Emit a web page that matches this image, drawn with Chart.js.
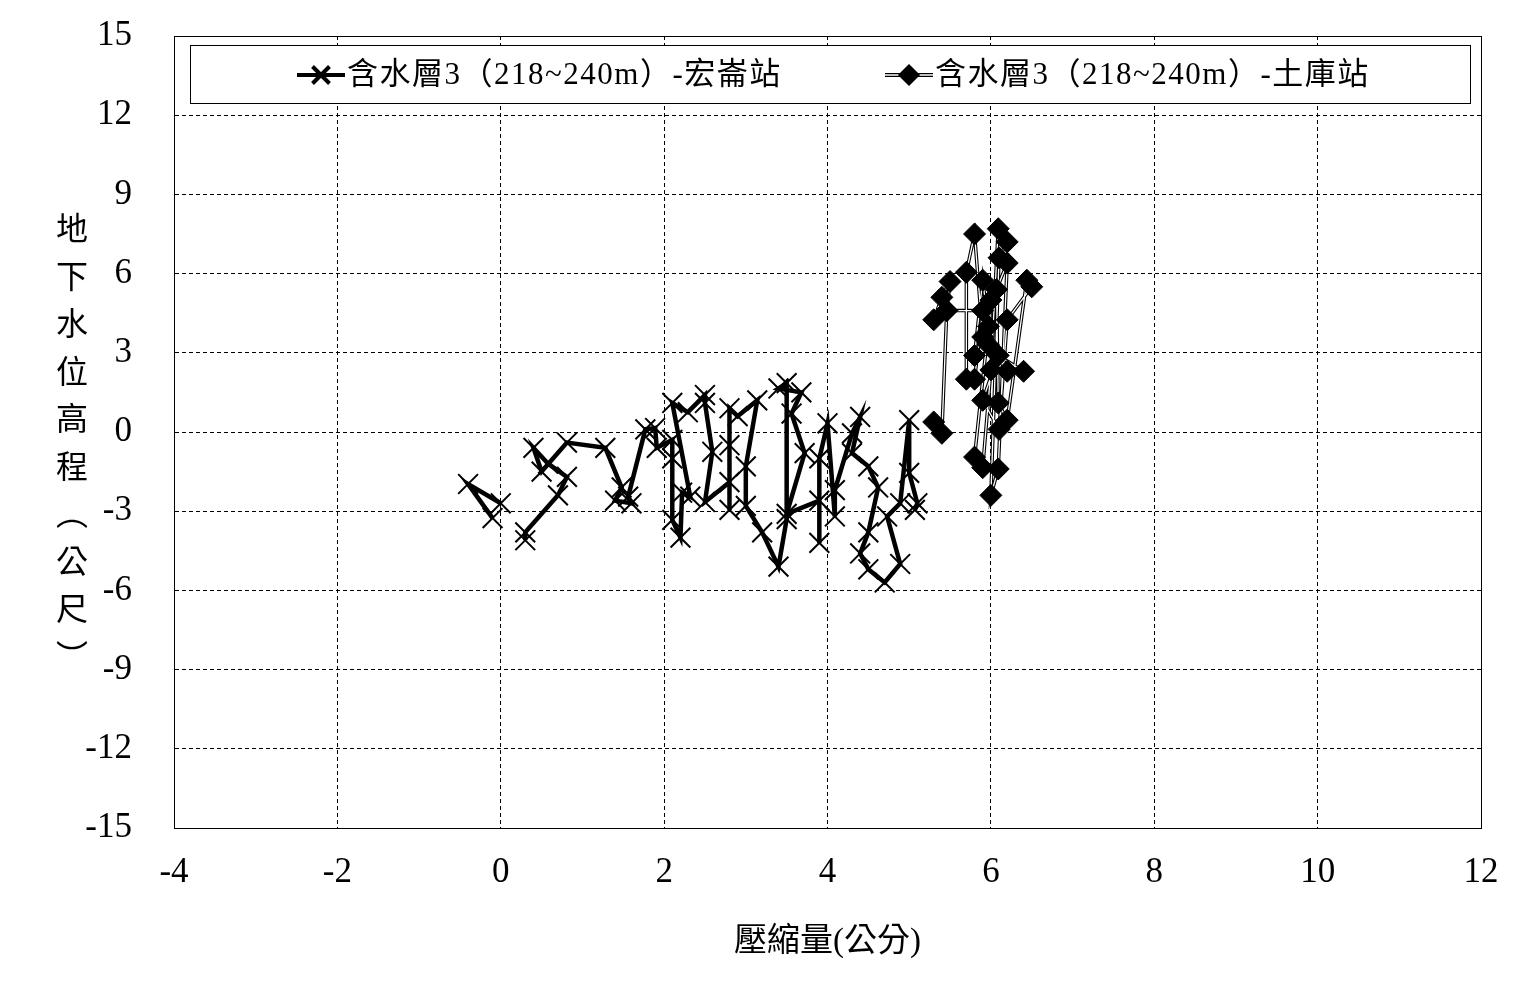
<!DOCTYPE html>
<html>
<head>
<meta charset="utf-8">
<script src="https://cdn.jsdelivr.net/npm/chart.js@4/dist/chart.umd.min.js"></script>
<style>
  html, body { margin: 0; padding: 0; background: #fff; }
  #wrap { width: 1528px; height: 998px; }
</style>
</head>
<body>
<div id="wrap"><canvas id="chart_subsidence"></canvas></div>
<script>
// 含水層3（218~240m）-宏崙站 : 壓縮量 (x) vs 地下水位 (y); null = gap in the record
const HONGLUN_X = [-0.1, -0.4, 0.0, null,
    0.3, 0.3, 0.7, 0.81, 0.58, 0.4, 0.5, 0.81, 1.28, 1.48, 1.4, 1.6, 1.56, 1.77, 1.89, 1.91,
    2.1, 2.1, 2.1, 2.2, 2.22, 2.32, 2.1, 2.29, 2.5, 2.5, 2.59, 2.5, 2.8, 2.8, 2.8, 2.8, 2.9,
    3.14, 3.0, 3.0, 3.2, 3.4, 3.5, 3.5, 3.4, 3.68, 3.56, 3.72, 3.5, 3.9, 3.9, 3.9, 4.0, 4.09,
    4.09, 4.3, 4.4, 4.3, 4.5, 4.62, 4.5, 4.4, 4.5, 4.7, 4.89, 4.73, 4.89, 5.0, 5.0, 5.1, 5.07];
const HONGLUN_Y = [-3.26, -1.97, -2.7, null,
    -4.1, -3.8, -2.4, -1.7, -1.2, -0.6, -1.5, -0.4, -0.6, -2.1, -2.6, -2.7, -2.45, 0.1, 0.15, -0.6,
    -0.3, -1.0, -3.33, -4.0, -2.3, -2.45, 1.1, 0.75, 1.4, 1.1, -0.75, -2.65, -1.9, -2.95, -0.5, 0.9, 0.6,
    1.2, -1.3, -2.8, -3.8, -5.1, -3.3, 1.85, 1.65, 1.5, 0.7, -0.8, -3.1, -2.6, -4.2, -1.0, 0.33, -3.2,
    -2.2, -0.05, 0.57, -0.8, -1.3, -2.1, -3.8, -4.6, -5.2, -5.7, -5.0, -3.2, -2.7, 0.45, -1.55, -2.7, -2.95];

// 含水層3（218~240m）-土庫站
const TUKU_X = [5.3, 5.4, 5.46, 5.3, 5.4, 5.5, 5.46, 5.9, 5.8, 5.7, 5.7, 5.8, 5.9, 5.8, 5.9, 5.97,
    5.8, 5.9, 6.0, 6.09, 6.2, 6.1, 6.0, 6.09, 6.2, 6.07, 6.09, 6.2, 6.44, 6.5, 6.2, 6.1, 5.9,
    6.09, 6.4, 6.2, 5.97, 6.0];
const TUKU_Y = [0.38, -0.05, 4.6, 4.25, 5.1, 5.7, 4.6, 4.6, 2.0, 2.0, 6.05, 7.5, 3.6, 2.9, 5.75, 4.0,
    -0.95, -1.35, 2.35, 7.7, 7.2, 6.6, -2.4, -1.4, 6.4, 5.4, 1.1, 0.45, 5.75, 5.5, 4.25, 0.1, 1.2,
    2.9, 2.3, 2.3, 3.3, 5.0];

const X_TITLE = "壓縮量(公分)";
const Y_TITLE = ["地", "下", "水", "位", "高", "程", "︵", "公", "尺", "︶"];
const LEGEND_LABELS = ["含水層3（218~240m）-宏崙站", "含水層3（218~240m）-土庫站"];

const FONT_FAMILY = '"Liberation Serif", "Noto Sans CJK TC", serif';

const toPoints = (xs, ys) => xs.map((x, i) => ({ x: x, y: ys[i] }));

const frameAndLegend = {
    id: "frameAndLegend",
    afterDraw(chart) {
        const ctx = chart.ctx;
        const area = chart.chartArea;
        ctx.save();
        // solid frame round the plot area
        ctx.strokeStyle = "#000";
        ctx.lineWidth = 1;
        ctx.strokeRect(area.left + 0.5, area.top + 0.5, area.right - area.left, area.bottom - area.top);

        // legend box inside the plot
        ctx.fillStyle = "#fff";
        ctx.fillRect(190, 45, 1280, 58);
        ctx.strokeRect(190.5, 45.5, 1280, 58);

        ctx.font = "31px " + FONT_FAMILY;
        ctx.letterSpacing = "1.5px";
        ctx.textBaseline = "middle";
        ctx.fillStyle = "#000";

        // item 1: thick line with X
        ctx.lineWidth = 4;
        ctx.beginPath();
        ctx.moveTo(297, 75);
        ctx.lineTo(345, 75);
        ctx.stroke();
        Chart.helpers.drawPoint(ctx, { pointStyle: "crossRot", radius: 12, borderWidth: 2 }, 321, 75);
        ctx.fillText(LEGEND_LABELS[0], 347, 76);

        // item 2: hollow line with diamond
        ctx.lineWidth = 4;
        ctx.beginPath();
        ctx.moveTo(885, 75);
        ctx.lineTo(933, 75);
        ctx.stroke();
        ctx.strokeStyle = "#fff";
        ctx.lineWidth = 1.5;
        ctx.beginPath();
        ctx.moveTo(885, 75);
        ctx.lineTo(933, 75);
        ctx.stroke();
        ctx.strokeStyle = "#000";
        ctx.fillStyle = "#000";
        Chart.helpers.drawPoint(ctx, { pointStyle: "rectRot", radius: 10, borderWidth: 1 }, 909, 75);
        ctx.fillText(LEGEND_LABELS[1], 935, 76);

        // vertical y title, one character per row
        ctx.letterSpacing = "0px";
        ctx.font = "32px " + FONT_FAMILY;
        ctx.textAlign = "center";
        Y_TITLE.forEach((ch, i) => {
            ctx.fillText(ch, 72, 232 + i * 47.5);
        });
        ctx.restore();
    },
};

const ctx = document.getElementById("chart_subsidence");
const subsidenceChart = new Chart(ctx, {
    type: "scatter",
    data: {
        datasets: [
            {
                label: LEGEND_LABELS[0],
                data: toPoints(HONGLUN_X, HONGLUN_Y),
                showLine: true,
                spanGaps: false,
                borderColor: "#000",
                backgroundColor: "#000",
                borderWidth: 4.5,
                pointStyle: "crossRot",
                pointRadius: 14,
                pointBorderWidth: 2,
                order: 4,
            },
            {
                // outer black stroke of the hollow line
                label: "tuku-outer",
                data: toPoints(TUKU_X, TUKU_Y),
                showLine: true,
                borderColor: "#000",
                borderWidth: 3.5,
                pointRadius: 0,
                order: 3,
            },
            {
                // inner white stroke of the hollow line
                label: "tuku-inner",
                data: toPoints(TUKU_X, TUKU_Y),
                showLine: true,
                borderColor: "#fff",
                borderWidth: 1.3,
                pointRadius: 0,
                order: 2,
            },
            {
                label: LEGEND_LABELS[1],
                data: toPoints(TUKU_X, TUKU_Y),
                showLine: false,
                borderColor: "#000",
                backgroundColor: "#000",
                pointStyle: "rectRot",
                pointRadius: 11,
                pointBorderWidth: 1,
                order: 1,
            },
        ],
    },
    options: {
        responsive: true,
        maintainAspectRatio: false,
        animation: false,
        layout: {
            padding: { top: 36, right: 47, left: 0, bottom: 0 },
        },
        plugins: {
            legend: { display: false },
            tooltip: { enabled: false },
        },
        scales: {
            x: {
                type: "linear",
                min: -4,
                max: 12,
                ticks: {
                    stepSize: 2,
                    color: "#000",
                    padding: 24,
                    maxRotation: 0,
                    font: { family: FONT_FAMILY, size: 35 },
                },
                grid: {
                    color: "#000",
                    lineWidth: 1,
                    drawTicks: false,
                },
                border: { display: true, color: "#000", dash: [4, 3] },
                title: {
                    display: true,
                    text: X_TITLE,
                    color: "#000",
                    font: { family: FONT_FAMILY, size: 33 },
                    padding: { top: 0, bottom: 36 },
                },
                afterFit(scale) {
                    scale.height = 170;
                    scale.paddingLeft = 0;
                    scale.paddingRight = 0;
                },
            },
            y: {
                type: "linear",
                min: -15,
                max: 15,
                ticks: {
                    stepSize: 3,
                    color: "#000",
                    padding: 42,
                    font: { family: FONT_FAMILY, size: 35 },
                },
                grid: {
                    color: "#000",
                    lineWidth: 1,
                    drawTicks: false,
                },
                border: { display: true, color: "#000", dash: [4, 3] },
                afterFit(scale) {
                    scale.width = 174;
                    scale.paddingTop = 0;
                    scale.paddingBottom = 0;
                },
            },
        },
    },
    plugins: [frameAndLegend],
});
</script>
</body>
</html>
